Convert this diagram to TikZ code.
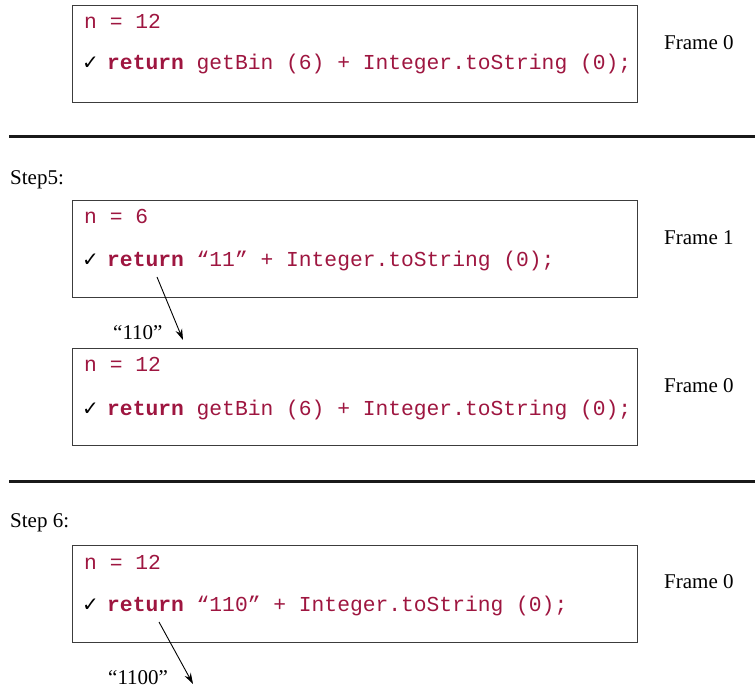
\documentclass[tikz,border=0pt]{standalone}
\usepackage{fontspec}
\setmainfont{Liberation Serif}
\setmonofont{Liberation Mono}
\newfontfamily\symfont{DejaVu Sans}
\usetikzlibrary{arrows.meta}
\definecolor{codered}{RGB}{158,22,64}
\definecolor{boxline}{RGB}{60,60,60}
\tikzset{
  frame/.style={draw=boxline, line width=1.2pt, anchor=north west, inner sep=0pt,
    minimum width=565pt, minimum height=97pt},
  code/.style={anchor=base west, inner sep=0pt, text=codered,
    font=\fontsize{21.3}{25}\ttfamily},
  tick/.style={anchor=base west, inner sep=0pt, font=\fontsize{20}{24}\symfont},
  label/.style={anchor=base west, inner sep=0pt, font=\fontsize{21}{25}\selectfont},
  rule/.style={line width=3pt, draw=black!90},
  ret/.style={-{Stealth[length=11pt,width=7pt]}, line width=0.9pt}
}
\newcommand{\kw}{\textbf{return}}
\begin{document}
\begin{tikzpicture}[x=1pt,y=-1pt]
\useasboundingbox (0,0) rectangle (755,700);

% ---- frame 0 before step 5
\node[frame] (f0a) at (72,5) {};
\node[code] (f0an) at (84,29) {n = 12};
\node[tick] (f0at) at (82,70) {✓};
\node[code] (f0ar) at (107,70) {\kw{} getBin (6) + Integer.toString (0);};
\node[label] (f0al) at (664,50) {Frame 0};

\coordinate (r1a) at (9,137);
\coordinate (r1b) at (755,137);
\draw[rule] (r1a) -- (r1b);

% ---- step 5
\node[label] (s5) at (10,185) {Step5:};

\node[frame] (f1) at (72,200) {};
\node[code] (f1n) at (84,224) {n = 6};
\node[tick] (f1t) at (82,267) {✓};
\node[code] (f1r) at (107,267) {\kw{} “11” + Integer.toString (0);};
\node[label] (f1l) at (664,245) {Frame 1};

\coordinate (a1s) at (157,277);
\coordinate (a1e) at (183,340);
\draw[ret] (a1s) -- (a1e);
\node[label] (v1) at (113,340) {“110”};

\node[frame] (f0b) at (72,348) {};
\node[code] (f0bn) at (84,372) {n = 12};
\node[tick] (f0bt) at (82,415) {✓};
\node[code] (f0br) at (107,415) {\kw{} getBin (6) + Integer.toString (0);};
\node[label] (f0bl) at (664,392) {Frame 0};

\coordinate (r2a) at (9,481);
\coordinate (r2b) at (755,481);
\draw[rule] (r2a) -- (r2b);

% ---- step 6
\node[label] (s6) at (10,527) {Step 6:};

\node[frame] (f0c) at (72,545) {};
\node[code] (f0cn) at (84,569) {n = 12};
\node[tick] (f0ct) at (82,611) {✓};
\node[code] (f0cr) at (107,611) {\kw{} “110” + Integer.toString (0);};
\node[label] (f0cl) at (664,588) {Frame 0};

\coordinate (a2s) at (159,622);
\coordinate (a2e) at (193,684);
\draw[ret] (a2s) -- (a2e);
\node[label] (v2) at (108,684) {“1100”};
\end{tikzpicture}
\end{document}
